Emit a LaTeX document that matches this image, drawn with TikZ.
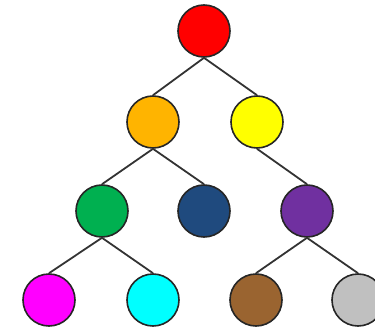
\documentclass[tikz,border=0pt]{standalone}
\definecolor{cred}{HTML}{FF0000}
\definecolor{corange}{HTML}{FFB400}
\definecolor{cyellow}{HTML}{FFFF00}
\definecolor{cgreen}{HTML}{00B050}
\definecolor{cnavy}{HTML}{1F4A7E}
\definecolor{cpurple}{HTML}{7030A0}
\definecolor{cmagenta}{HTML}{FF00FF}
\definecolor{ccyan}{HTML}{00FFFF}
\definecolor{cbrown}{HTML}{9A6430}
\definecolor{cgray}{HTML}{C0C0C0}
\definecolor{cedge}{HTML}{333333}
\begin{document}
\begin{tikzpicture}[x=1pt,y=-1pt,
  ball/.style={circle,draw=black!85,line width=1.6pt,minimum size=52pt,inner sep=0pt},
  edge/.style={draw=cedge,line width=1.8pt}]
\useasboundingbox (0,0) rectangle (375,329);
\node[ball,fill=cred] (r) at (204,31) {};
\node[ball,fill=corange] (o) at (153,122) {};
\node[ball,fill=cyellow] (y) at (257,122) {};
\node[ball,fill=cgreen] (g) at (102,211) {};
\node[ball,fill=cnavy] (n) at (204,211) {};
\node[ball,fill=cpurple] (p) at (307,211) {};
\node[ball,fill=cmagenta] (m) at (49,300) {};
\node[ball,fill=ccyan] (c) at (153,300) {};
\node[ball,fill=cbrown] (b) at (256,300) {};
\node[ball,fill=cgray] (a) at (358,300) {};
\draw[edge] (r.south) -- (o.north);
\draw[edge] (r.south) -- (y.north);
\draw[edge] (o.south) -- (g.north);
\draw[edge] (o.south) -- (n.north);
\draw[edge] (y.south) -- (p.north);
\draw[edge] (g.south) -- (m.north);
\draw[edge] (g.south) -- (c.north);
\draw[edge] (p.south) -- (b.north);
\draw[edge] (p.south) -- (a.north);
\end{tikzpicture}
\end{document}
